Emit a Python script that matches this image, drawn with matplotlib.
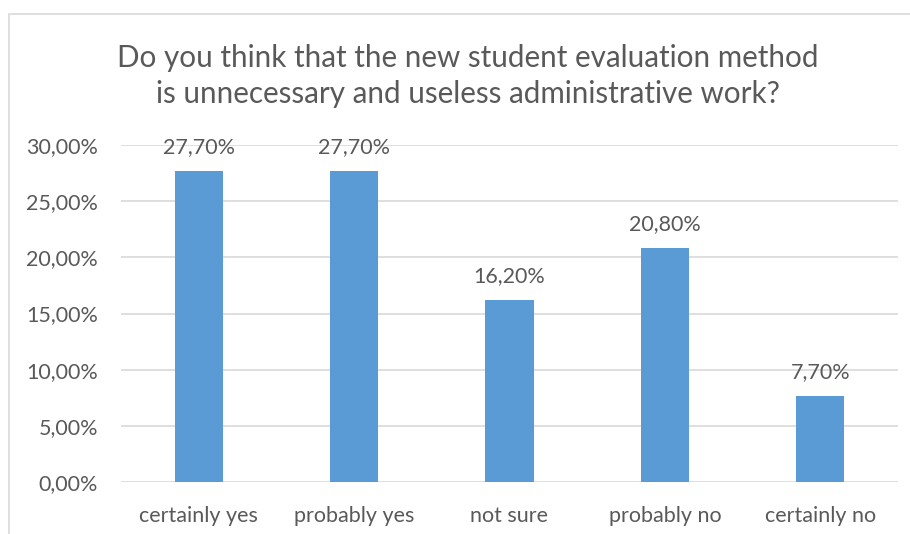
import matplotlib.pyplot as plt
from matplotlib.ticker import FuncFormatter
from matplotlib.patches import Rectangle

# DATA
categories = ['certainly yes', 'probably yes', 'not sure', 'probably no', 'certainly no']
shares = [27.70, 27.70, 16.20, 20.80, 7.70]
yTicks = [0, 5, 10, 15, 20, 25, 30]
title = 'Do you think that the new student evaluation method\nis unnecessary and useless administrative work?'

plt.rcParams['font.family'] = ['Lato', 'DejaVu Sans']
textColor = '#595959'
gridColor = '#d9d9d9'
barColor = '#5b9bd5'

fig = plt.figure(figsize=(9.1, 5.34), dpi=100)
ax = fig.add_axes([121/910, 1 - 482/534, (898-121)/910, (482-145)/534])

# chart frame (only left and top visible in the crop)
fig.patches.append(Rectangle((9/910, -0.1), 1.2, (534-14)/534 + 0.1, transform=fig.transFigure,
                             fill=False, edgecolor=gridColor, lw=1.2))

x = range(len(categories))
bars = ax.bar(x, shares, width=0.31, color=barColor, zorder=3)
for xi, v in zip(x, shares):
    ax.annotate(f'{v:.2f}%'.replace('.', ','), (xi, v), xytext=(0, 10), textcoords='offset points',
                ha='center', va='bottom', fontsize=15.5, color=textColor)

ax.set_xlim(-0.5, len(categories) - 0.5)
ax.set_ylim(0, 30)
ax.set_yticks(yTicks)
ax.yaxis.set_major_formatter(FuncFormatter(lambda v, p: f'{v:.2f}%'.replace('.', ',')))
ax.set_xticks(list(x))
ax.set_xticklabels(categories)
ax.tick_params(axis='both', length=0, labelsize=15.5, labelcolor=textColor)
ax.tick_params(axis='x', pad=17)
ax.tick_params(axis='y', pad=16.5)
ax.grid(axis='y', color=gridColor, lw=1.2, zorder=0)
for s in ax.spines.values():
    s.set_visible(False)

fig.text(468/910, 1 - 76/534, title, ha='center', va='center', fontsize=21.3,
         color=textColor, linespacing=1.38)

fig.savefig('out.png', dpi=100)
